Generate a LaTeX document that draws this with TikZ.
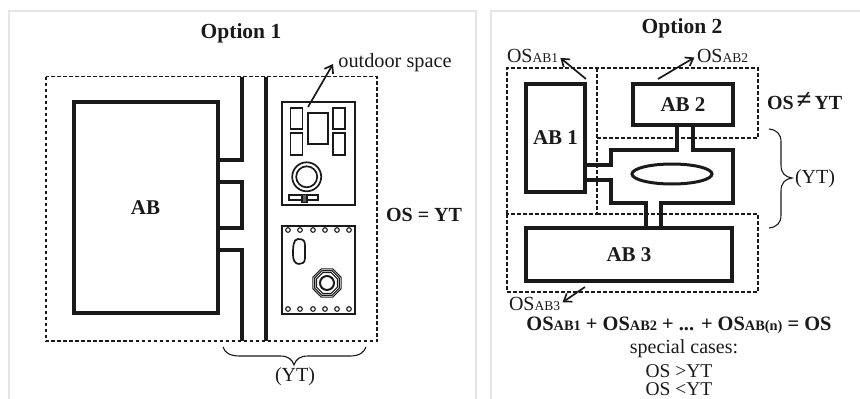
\documentclass[tikz,border=0pt]{standalone}
\usepackage{fontspec}
\setmainfont{Liberation Serif}
\usetikzlibrary{arrows.meta,shapes.geometric}
\definecolor{ink}{HTML}{1A1A1A}
\newcommand{\fs}[1]{\fontsize{#1}{#1}\selectfont}
\newcommand{\osab}[1]{OS{\fs{13.5}#1}}
\newcommand{\bosab}[1]{OS{\fs{14.4}#1}}
\tikzset{
  every node/.append style={outer sep=0pt},
  panel/.style={draw=black!10,line width=1.2pt},
  zone/.style={draw=ink,line width=1.8pt,dash pattern=on 3.8pt off 2.2pt},
  wall/.style={draw=ink,line width=3.2pt,line join=miter},
  heavy/.style={draw=ink,line width=4pt,line join=miter},
  thin/.style={draw=ink,line width=1.7pt},
  pointer/.style={draw=ink,line width=1.7pt,-{Straight Barb[length=7pt,width=10pt,line width=1.7pt]}},
  curly/.style={draw=ink,line width=1.1pt},
  lbl/.style={text=ink,inner sep=0pt,anchor=center},
  title/.style={lbl,font=\bfseries\fs{21.5}},
  big/.style={lbl,font=\bfseries\fs{20}},
  txt/.style={lbl,font=\fs{20}},
  abbox/.style={heavy,rectangle,inner sep=0pt,font=\bfseries\fs{21},text=ink,anchor=north west},
  plot/.style={thin,rectangle,inner sep=0pt,anchor=north west},
  hole/.style={draw=ink,line width=1.1pt,circle,minimum size=4.6pt,inner sep=0pt},
}
\begin{document}
\begin{tikzpicture}[x=1pt,y=-1pt]
\useasboundingbox (0,0) rectangle (860,399);
% panels
\draw[panel] (9,399) -- (9,11) -- (476,11) -- (476,399);
\draw[panel] (491,399) -- (491,11) -- (860,11);
\node[title] (t1) at (241,33) {Option 1};
\node[title] (t2) at (682,28) {Option 2};

% ---------- option 1
\draw[zone] (46,76.5) rectangle (377,341);
\node[abbox,minimum width=144pt,minimum height=211pt] (ab) at (73.5,102) {AB};
\coordinate (w1) at (242,76.5);
\coordinate (w2) at (242,341);
\coordinate (w3) at (266,76.5);
\coordinate (w4) at (266,341);
\draw[wall] (w1) |- (217.5,160);
\draw[wall] (217.5,182) -| (242,228) -- (217.5,228);
\draw[wall] (217.5,250) -| (w2);
\draw[wall] (w3) -- (w4);

\node[plot,minimum width=73pt,minimum height=103pt] (p1) at (282,102) {};
\foreach \x/\y/\w/\h/\n in {290.5/108/12/21/a,290.5/133/12/22/b,333/108/12/21/c,333/133/12/22/d,308/113/20/31/e}
  \node[plot,minimum width=\w pt,minimum height=\h pt] (r\n) at (\x,\y) {};
\node[thin,circle,minimum size=29pt,inner sep=0pt] (c1) at (306.7,176.8) {};
\node[thin,circle,minimum size=21pt,inner sep=0pt] (c2) at (306.7,176.8) {};
\node[plot,minimum width=29pt,minimum height=5pt] (bench) at (289,195) {};
\node[thin,fill=ink!70,rectangle,inner sep=0pt,minimum width=5pt,minimum height=8pt,anchor=north west] (post) at (302,194.5) {};

\node[plot,minimum width=73pt,minimum height=88pt] (p2) at (282,226) {};
\foreach \x in {288,300,313,325,337,349} {
  \node[hole] (h\x) at (\x,230) {};
  \node[hole] (k\x) at (\x,309) {};
}
\draw[thin] (298,239) .. controls (304,239) and (305,241) .. (305,246)
  -- (305,258) .. controls (305,263) and (302,264) .. (299,264)
  .. controls (295,264) and (293,260) .. (293,255)
  .. controls (293,248) and (293,239) .. (298,239) -- cycle;
\foreach \r/\n in {30.5/o1,26.5/o2,22.5/o3}
  \node[draw=ink,line width=1.1pt,regular polygon,regular polygon sides=8,minimum size=\r pt,inner sep=0pt] (\n) at (327,283) {};
\node[draw=ink,line width=2pt,circle,minimum size=14pt,inner sep=0pt] (o4) at (327,283) {};

\node[lbl,font=\fs{20.3}] (out) at (395,63) {outdoor space};
\coordinate (outfrom) at (308,107);
\coordinate (outto) at (333,64);
\draw[pointer] (outfrom) -- (outto);
\node[big] (eq1) at (424,215) {OS = YT};
\draw[curly] (223,347) .. controls (225,353) and (230,356) .. (240,356)
  -- (280,356) .. controls (288,356) and (292,359) .. (294,365)
  .. controls (296,359) and (300,356) .. (308,356)
  -- (350,356) .. controls (360,356) and (364,352) .. (366,347);
\node[txt] (yt1) at (295,377) {(YT)};

% ---------- option 2
\draw[zone] (507,214) -- (507,68) -- (758,68) -- (758,138) -- (597,138);
\draw[zone] (597,68) -- (597,214) -- (507,214);
\draw[zone] (597,214) -- (758,214) -- (758,292) -- (507,292) -- (507,214);

\node[abbox,minimum width=59pt,minimum height=108pt] (ab1) at (526,84) {AB 1};
\node[abbox,minimum width=100pt,minimum height=41pt] (ab2) at (633,84) {AB 2};
\node[abbox,minimum width=206pt,minimum height=53pt] (ab3) at (526,228) {AB 3};
\draw[heavy] (ab1.east |- 0,165) -| (611,150) -| (ab2.south -| 677,0);
\draw[heavy] (ab2.south -| 693,0) |- (733,150) |- (661,203) -- (ab3.north -| 661,0);
\draw[heavy] (ab1.east |- 0,180) -| (611,203) -| (ab3.north -| 646,0);
\node[draw=ink,line width=3pt,ellipse,minimum width=80pt,minimum height=20pt,inner sep=0pt] (pond) at (672,174) {};

\node[txt,anchor=west] (os1) at (507,56) {\osab{AB1}};
\node[txt,anchor=west] (os2) at (697,56) {\osab{AB2}};
\node[txt,anchor=west] (os3) at (509,304) {\osab{AB3}};
\coordinate (a1) at (586,79);
\coordinate (a2) at (658,79);
\coordinate (a3) at (585,287);
\draw[pointer,shorten >=3pt] (a1) -- (os1.east);
\draw[pointer,shorten >=3pt] (a2) -- (os2.west);
\draw[pointer,shorten >=3pt] (a3) -- (os3.east);

\node[big,anchor=west] (neq) at (767,101) {OS\hspace{3pt}\raisebox{1pt}{\fs{27}≠}\hspace{3pt}YT};
\draw[curly] (769,129) .. controls (777,130) and (781,134) .. (781,142)
  -- (781,165) .. controls (781,173) and (785,177) .. (792,178)
  .. controls (785,179) and (781,183) .. (781,191)
  -- (781,215) .. controls (781,223) and (777,227) .. (769,228);
\node[txt,anchor=west] (yt2) at (795,179) {(YT)};

\node[big,font=\bfseries\fs{20.4}] (sum) at (679,325) {\bosab{AB1} + \bosab{AB2} + ... + \bosab{AB(n)} = OS};
\node[txt] (sc) at (684,349) {special cases:};
\node[lbl,font=\fs{19.5}] (gt) at (679,371) {OS >YT};
\node[lbl,font=\fs{19.5}] (lt) at (679,389.5) {OS <YT};
\end{tikzpicture}
\end{document}
